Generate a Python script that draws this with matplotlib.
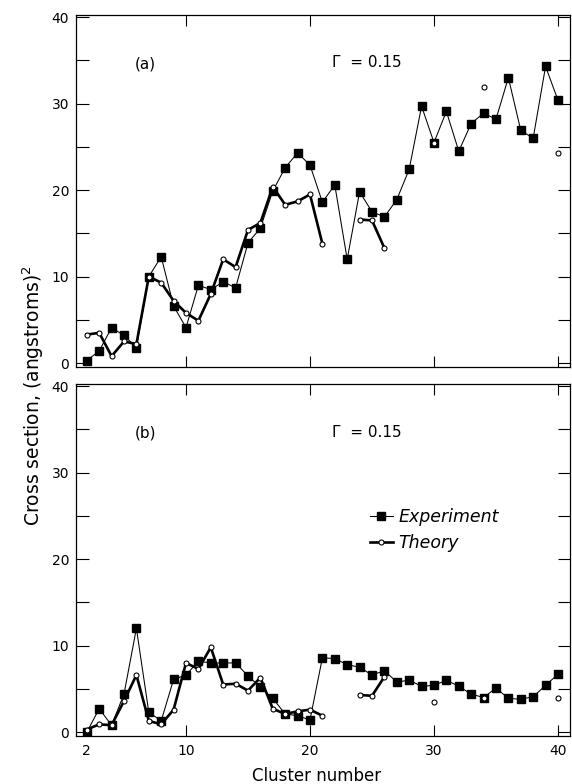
import numpy as np
import matplotlib
matplotlib.use("Agg")
import matplotlib.pyplot as plt
from matplotlib.legend_handler import HandlerLine2D

nan = np.nan
cluster = np.arange(2, 41)

# panel (a)
exp_a = [0.3, 1.4, 4.1, 3.2, 1.8, 10.0, 12.3, 6.6, 4.1, 9.0,
         8.5, 9.4, 8.7, 13.9, 15.6, 19.9, 22.6, 24.3, 22.9, 18.6,
         20.6, 12.0, 19.8, 17.5, 16.9, 18.9, 22.4, 29.7, 25.5, 29.1,
         24.5, 27.7, 28.9, 28.2, 33.0, 26.9, 26.0, 34.3, 30.4]
theory_a = [3.3, 3.5, 0.8, 2.5, 2.2, 10.0, 9.3, 7.2, 5.8, 4.9,
            8.0, 12.0, 11.1, 15.4, 16.2, 20.4, 18.3, 18.7, 19.5, 13.8,
            nan, nan, 16.6, 16.5, 13.3, nan, nan, nan, 25.5, nan,
            nan, nan, 31.9, nan, nan, nan, nan, nan, 24.3]

# panel (b)
exp_b = [0.0, 2.7, 0.8, 4.4, 12.0, 2.3, 1.3, 6.1, 6.6, 8.2,
         8.0, 8.0, 8.0, 6.5, 5.2, 3.9, 2.1, 1.9, 1.4, 8.6,
         8.5, 7.8, 7.5, 6.6, 7.1, 5.8, 6.0, 5.3, 5.4, 6.0,
         5.3, 4.4, 4.0, 5.1, 3.9, 3.8, 4.1, 5.4, 6.7]
theory_b = [0.3, 0.9, 0.8, 3.6, 6.6, 1.3, 0.9, 2.6, 8.0, 7.3,
            9.8, 5.5, 5.6, 4.8, 6.3, 2.7, 2.1, 2.4, 2.6, 1.9,
            nan, nan, 4.3, 4.2, 6.4, nan, nan, nan, 3.5, nan,
            nan, nan, 4.0, nan, nan, nan, nan, nan, 3.9]

panels = [("(a)", exp_a, theory_a), ("(b)", exp_b, theory_b)]


class EndMarker(HandlerLine2D):
    # marker at the right end of the legend line, like the original
    def get_xdata(self, legend, xdescent, ydescent, width, height, fontsize):
        xd = np.array([-xdescent, -xdescent + width])
        return xd, xd[-1:]


fig = plt.figure(figsize=(5.72, 7.84), dpi=100)
ax_a = fig.add_axes([0.1329, 0.5319, 0.8636, 0.449])
ax_b = fig.add_axes([0.1329, 0.0612, 0.8636, 0.449])

for ax, (tag, exp, theo) in zip([ax_a, ax_b], panels):
    ax.plot(cluster, exp, color="black", lw=0.75, marker="s", ms=6.2,
            mfc="black", mec="black", zorder=2, label="Experiment")
    ax.plot(cluster, theo, color="black", lw=1.9, marker="o", ms=3.6,
            mfc="white", mec="black", mew=0.8, zorder=3, label="Theory")

    ax.set_xlim(1.13, 40.97)
    ax.set_ylim(-0.45, 40.25)
    ax.set_xticks([10, 20, 30, 40])
    ax.set_yticks([0, 10, 20, 30, 40])
    ax.set_yticks([5, 15, 25, 35], minor=True)
    ax.tick_params(axis="both", which="both", direction="in", width=0.8,
                   top=True, right=True, labelsize=10, colors="black")
    ax.tick_params(axis="y", which="both", length=9, pad=5)
    ax.tick_params(axis="x", which="major", length=8, pad=6)
    for s in ax.spines.values():
        s.set_linewidth(0.9)

    ax.text(6.7, 34.6, tag, fontsize=11, ha="center", va="center")
    ax.text(21.8, 34.7, "\u0393  = 0.15", fontsize=11, ha="left", va="center")

ax_a.set_xticklabels([])
ax_b.set_xticks([2], labels=["2"], minor=True)
ax_b.tick_params(axis="x", which="minor", length=0, pad=6, labelsize=10)

leg = ax_b.legend(loc="upper left", bbox_to_anchor=(0.595, 0.648),
                  frameon=False, borderpad=0, borderaxespad=0,
                  handlelength=1.3, handletextpad=0.35, labelspacing=0.45,
                  prop={"style": "italic", "size": 12.5},
                  handler_map={matplotlib.lines.Line2D: EndMarker()})

fig.text(33 / 572, 1 - 396 / 784, "Cross section, (angstroms)$^2$",
         rotation=90, ha="center", va="center", fontsize=13.5)
fig.text(317 / 572, 1 - 776 / 784, "Cluster number",
         ha="center", va="center", fontsize=12)

fig.savefig("out.png", dpi=100)
